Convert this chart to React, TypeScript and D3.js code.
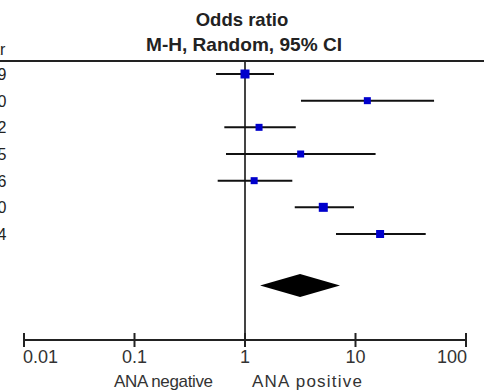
import React from "react";
import * as d3 from "d3";

const years = ["2009", "2010", "2012", "2015", "2016", "2010", "2014"];
const orEst = [1.0, 12.8, 1.34, 3.19, 1.21, 5.11, 16.7];
const orLo = [0.547, 3.21, 0.65, 0.673, 0.566, 2.82, 6.66];
const orHi = [1.83, 51.4, 2.88, 15.2, 2.68, 9.69, 43.2];
const markerSize = [9, 7, 7, 7, 7, 9, 8];
const pooled = [1.37, 3.15, 7.24];
const tickValues = [0.01, 0.1, 1, 10, 100];
const tickLabels = ["0.01", "0.1", "1", "10", "100"];

export default function App() {
  const W = 484, H = 390;
  const x = d3.scaleLog().domain([0.01, 100]).range([24, 466]);
  const y = d3.scalePoint<number>().domain(years.map((_, i) => i)).range([74, 234]);
  const axisY = 340;
  const diamondY = 285.5;
  const dh = 11.5;
  const diamond = d3.line()([
    [x(pooled[0]), diamondY],
    [x(pooled[1]), diamondY - dh],
    [x(pooled[2]), diamondY],
    [x(pooled[1]), diamondY + dh],
  ]) + "Z";
  const font = "'Liberation Sans', Arial, sans-serif";
  return (
    <svg width={W} height={H} style={{ position: "absolute", left: 0, top: 0, background: "#fff" }} fontFamily={font}>
      <rect width={W} height={H} fill="#fff" />
      <text x={242} y={26} textAnchor="middle" fontWeight="bold" fontSize={18.5} fill="#222">Odds ratio</text>
      <text x={244} y={51} textAnchor="middle" fontWeight="bold" fontSize={18.5} fill="#222" textLength={196} lengthAdjust="spacingAndGlyphs">M-H, Random, 95% CI</text>
      <text x={5.3} y={55} textAnchor="end" fontSize={16} fill="#222">Year</text>
      <line x1={0} x2={W} y1={61} y2={61} stroke="#222" strokeWidth={2} />
      {years.map((yr, i) => (
        <text key={"t" + i} x={6.5} y={(y(i) as number) + 6} textAnchor="end" fontSize={16} fill="#222">{yr}</text>
      ))}
      <line x1={x(1)} x2={x(1)} y1={62} y2={axisY} stroke="#444" strokeWidth={2} />
      {years.map((_, i) => {
        const cy = y(i) as number;
        const s = markerSize[i];
        return (
          <g key={"r" + i}>
            <line x1={x(orLo[i])} x2={x(orHi[i])} y1={cy} y2={cy} stroke="#111" strokeWidth={2} />
            <rect x={x(orEst[i]) - s / 2} y={cy - s / 2} width={s} height={s} fill="#0000cc" />
          </g>
        );
      })}
      <path d={diamond} fill="#000" />
      <line x1={x(0.01)} x2={x(100)} y1={axisY} y2={axisY} stroke="#222" strokeWidth={2} />
      {tickValues.map((t, i) => (
        <g key={"k" + i}>
          <line x1={x(t)} x2={x(t)} y1={333} y2={347} stroke="#222" strokeWidth={2} />
          <text
            x={x(t) + (i === 0 ? -1 : i === tickValues.length - 1 ? 1 : 0)}
            y={363}
            textAnchor={i === 0 ? "start" : i === tickValues.length - 1 ? "end" : "middle"}
            fontSize={18}
            fill="#333"
          >
            {tickLabels[i]}
          </text>
        </g>
      ))}
      <text x={114} y={387} fontSize={17} fill="#333" textLength={99} lengthAdjust="spacing">ANA negative</text>
      <text x={252} y={387} fontSize={17} fill="#333" textLength={110} lengthAdjust="spacing">ANA positive</text>
    </svg>
  );
}
